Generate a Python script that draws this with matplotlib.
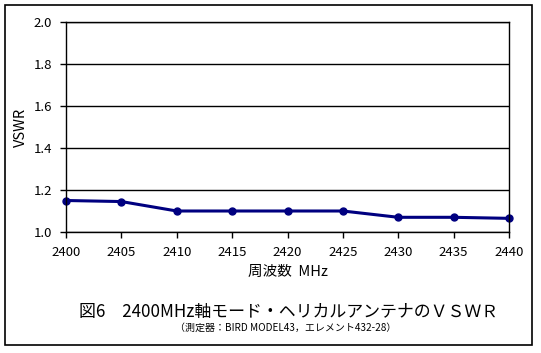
import matplotlib
matplotlib.use("Agg")
import matplotlib.pyplot as plt
from matplotlib.patches import Rectangle

plt.rcParams['font.family'] = ['Noto Sans CJK JP', 'DejaVu Sans']

# データ
freq = [2400, 2405, 2410, 2415, 2420, 2425, 2430, 2435, 2440]
vswr = [1.15, 1.145, 1.10, 1.10, 1.10, 1.10, 1.07, 1.07, 1.065]
y_ticks = [1.0, 1.2, 1.4, 1.6, 1.8, 2.0]

W, H = 541, 353
fig = plt.figure(figsize=(W / 100, H / 100), dpi=100)

# 外枠
fig.patches.append(Rectangle((5 / W, 1 - 345 / H), 527 / W, 340 / H,
                             transform=fig.transFigure, fill=False,
                             edgecolor="black", linewidth=1.2))

ax = fig.add_axes([66 / W, 1 - 232 / H, 443 / W, 210 / H])
ax.plot(freq, vswr, color="#000080", linewidth=2.2, marker="o", markersize=5,
        clip_on=False)

ax.set_xlim(2400, 2440)
ax.set_ylim(1.0, 2.0)
ax.set_xticks(freq)
ax.set_yticks(y_ticks)
ax.set_yticklabels([f"{v:.1f}" for v in y_ticks])
ax.tick_params(labelsize=9.5, length=4, width=1, color="black", pad=6)
ax.grid(True, axis="y", color="black", linewidth=1)
for s in ax.spines.values():
    s.set_linewidth(1)

ax.set_ylabel("VSWR", fontsize=10.5)
ax.yaxis.set_label_coords(-0.086, 0.5)
ax.set_xlabel("周波数  MHz", fontsize=10.5)
ax.xaxis.set_label_coords(0.5, -0.157)

fig.text(289 / W, 1 - 312 / H, "図6　2400MHz軸モード・ヘリカルアンテナのＶＳＷＲ",
         ha="center", va="center", fontsize=12.2)
fig.text(286 / W, 1 - 328 / H, "（測定器：BIRD MODEL43，エレメント432-28）",
         ha="center", va="center", fontsize=7.2)

fig.savefig("out.png", dpi=100)
